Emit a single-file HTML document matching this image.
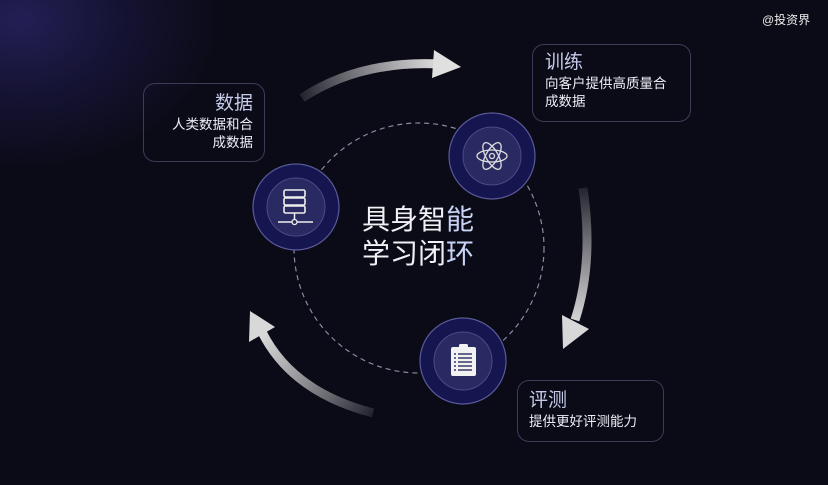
<!DOCTYPE html>
<html><head><meta charset="utf-8"><style>
html,body{margin:0;padding:0}
body{width:828px;height:485px;overflow:hidden;position:relative;
background:radial-gradient(ellipse 200px 150px at 20px 20px,#231f55 0%,#151333 50%,rgba(11,11,24,0) 100%),#0b0b17;
font-family:"Liberation Sans","Noto Sans CJK SC",sans-serif;color:#e8e8f0}
.box{position:absolute;border:1px solid #3a3d5a;border-radius:12px;box-sizing:border-box}
.t{font-size:19px;color:#c5cbe8}
.s{font-size:13.5px;line-height:18px;color:#eceef5}
</style></head><body>
<svg width="828" height="485" style="position:absolute;left:0;top:0">
<defs>
<linearGradient id="g1" x1="302" y1="98" x2="440" y2="64" gradientUnits="userSpaceOnUse"><stop offset="0" stop-color="#fff" stop-opacity="0.1"/><stop offset="1" stop-color="#ddd"/></linearGradient>
<linearGradient id="g2" x1="583" y1="188" x2="575" y2="330" gradientUnits="userSpaceOnUse"><stop offset="0" stop-color="#fff" stop-opacity="0.1"/><stop offset="1" stop-color="#ddd"/></linearGradient>
<linearGradient id="g3" x1="373" y1="413" x2="262" y2="330" gradientUnits="userSpaceOnUse"><stop offset="0" stop-color="#fff" stop-opacity="0.1"/><stop offset="1" stop-color="#ddd"/></linearGradient>
</defs>
<circle cx="419" cy="248" r="125" fill="none" stroke="#8a8aa0" stroke-width="1.2" stroke-dasharray="5 4"/>
<path d="M302 98 Q360 60 440 64" fill="none" stroke="url(#g1)" stroke-width="9"/>
<polygon points="434,50 461,67 432,78" fill="#e0e0e0"/>
<path d="M583 188 Q594 262 575 320" fill="none" stroke="url(#g2)" stroke-width="9"/>
<polygon points="563,349 562,315 589,329" fill="#d8d8d8"/>
<path d="M373 413 Q292 392 262 332" fill="none" stroke="url(#g3)" stroke-width="9"/>
<polygon points="250,311 249,342 275,327" fill="#d8d8d8"/>
<g>
<circle cx="296" cy="207" r="43" fill="#151550" stroke="#5a5a9a" stroke-width="1.2"/>
<circle cx="296" cy="207" r="29" fill="#2a2a62" stroke="#4a4a88"/>
<rect x="284" y="190" width="21" height="7" rx="1.5" fill="none" stroke="#eee" stroke-width="1.6"/>
<rect x="284" y="198" width="21" height="7" rx="1.5" fill="none" stroke="#eee" stroke-width="1.6"/>
<rect x="284" y="206" width="21" height="7" rx="1.5" fill="none" stroke="#eee" stroke-width="1.6"/>
<line x1="294.5" y1="213" x2="294.5" y2="219" stroke="#eee" stroke-width="1.5"/>
<line x1="278" y1="222" x2="313" y2="222" stroke="#eee" stroke-width="1.5"/>
<circle cx="294.5" cy="222" r="2.5" fill="#2a2a62" stroke="#eee" stroke-width="1.3"/>
</g>
<g>
<circle cx="492" cy="156" r="43" fill="#151550" stroke="#5a5a9a" stroke-width="1.2"/>
<circle cx="492" cy="156" r="29" fill="#2a2a62" stroke="#4a4a88"/>
<g fill="none" stroke="#ddd" stroke-width="1.3">
<ellipse cx="492" cy="156" rx="15" ry="6"/>
<ellipse cx="492" cy="156" rx="15" ry="6" transform="rotate(60 492 156)"/>
<ellipse cx="492" cy="156" rx="15" ry="6" transform="rotate(-60 492 156)"/>
<circle cx="492" cy="156" r="2.5"/>
</g>
</g>
<g>
<circle cx="463" cy="361" r="43" fill="#151550" stroke="#5a5a9a" stroke-width="1.2"/>
<circle cx="463" cy="361" r="29" fill="#2a2a62" stroke="#4a4a88"/>
<rect x="451" y="347" width="25" height="29" rx="2" fill="#f2f2f2"/>
<rect x="459" y="344" width="9" height="5" rx="1.5" fill="#f2f2f2"/>
<g stroke="#2a2a62" stroke-width="1.4">
<line x1="458" y1="354" x2="472" y2="354"/><line x1="458" y1="358" x2="472" y2="358"/>
<line x1="458" y1="362" x2="472" y2="362"/><line x1="458" y1="366" x2="472" y2="366"/><line x1="458" y1="370" x2="472" y2="370"/>
<line x1="454" y1="354" x2="456" y2="354"/><line x1="454" y1="358" x2="456" y2="358"/><line x1="454" y1="362" x2="456" y2="362"/><line x1="454" y1="366" x2="456" y2="366"/><line x1="454" y1="370" x2="456" y2="370"/>
</g>
</g>
</svg>
<div style="position:absolute;left:362px;top:203px;font-size:28px;line-height:34px;color:#f0f0f5">具身智<span style="color:#c8d4f5">能</span><br>学习闭<span style="color:#c8d4f5">环</span></div>
<div class="box" style="left:143px;top:83px;width:122px;height:79px;text-align:right;padding:8px 11px 0 0">
<div class="t" style="line-height:24px">数据</div>
<div class="s">人类数据和合<br>成数据</div></div>
<div class="box" style="left:532px;top:44px;width:159px;height:78px;padding:6px 0 0 12px">
<div class="t" style="line-height:24px">训练</div>
<div class="s">向客户提供高质量合<br>成数据</div></div>
<div class="box" style="left:517px;top:380px;width:147px;height:62px;padding:8px 0 0 11px">
<div class="t" style="line-height:24px">评测</div>
<div class="s">提供更好评测能力</div></div>
<div style="position:absolute;left:762px;top:11px;font-size:12px;color:#eee">@投资界</div>
</body></html>
